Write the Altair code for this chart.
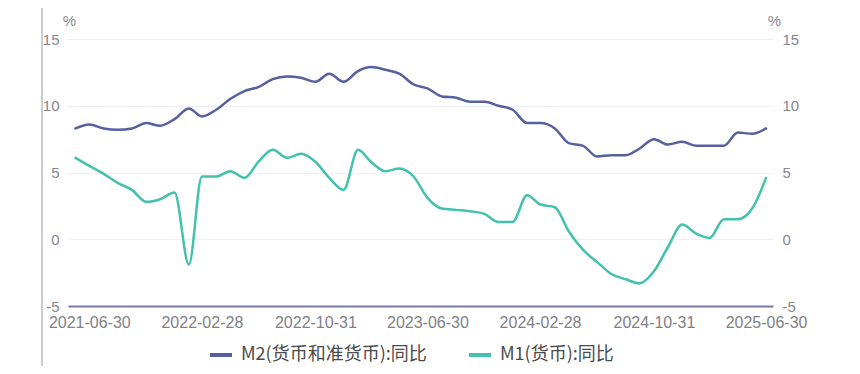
import altair as alt
import pandas as pd

# Month-end observation dates (categories)
dates = pd.date_range("2021-05-31", "2025-06-30", freq="ME").strftime("%Y-%m-%d").tolist()

# M2 year-on-year growth, %
m2 = [8.3, 8.6, 8.3, 8.2, 8.3, 8.7, 8.5, 9.0,
      9.8, 9.2, 9.7, 10.5, 11.1, 11.4, 12.0, 12.2, 12.1, 11.8, 12.4, 11.8,
      12.6, 12.9, 12.7, 12.4, 11.6, 11.3, 10.7, 10.6, 10.3, 10.3, 10.0, 9.7,
      8.7, 8.7, 8.3, 7.2, 7.0, 6.2, 6.3, 6.3, 6.8, 7.5, 7.1, 7.3,
      7.0, 7.0, 7.0, 8.0, 7.9, 8.3]

# M1 year-on-year growth, %
m1 = [6.1, 5.5, 4.9, 4.2, 3.7, 2.8, 3.0, 3.5,
      -1.9, 4.7, 4.7, 5.1, 4.6, 5.8, 6.7, 6.1, 6.4, 5.8, 4.6, 3.7,
      6.7, 5.8, 5.1, 5.3, 4.7, 3.1, 2.3, 2.2, 2.1, 1.9, 1.3, 1.3,
      3.3, 2.6, 2.4, 0.6, -0.8, -1.7, -2.6, -3.0, -3.3, -2.4, -0.6, 1.1,
      0.4, 0.1, 1.5, 1.5, 2.3, 4.6]

series_names = ["M2(货币和准货币):同比", "M1(货币):同比"]
series_colors = ["#56609f", "#42c1ae"]
x_tick_labels = ["2021-06-30", "2022-02-28", "2022-10-31", "2023-06-30",
                 "2024-02-28", "2024-10-31", "2025-06-30"]
y_ticks = [-5, 0, 5, 10, 15]

df = pd.DataFrame({
    "date": dates * 2,
    "value": m2 + m1,
    "series": [series_names[0]] * len(m2) + [series_names[1]] * len(m1),
})


def dt(s):
    y, m, d = (int(p) for p in s.split("-"))
    return alt.DateTime(year=y, month=m, date=d, utc=True)


x_enc = alt.X(
    "date:T",
    scale=alt.Scale(type="utc", domain=[dt("2021-05-15"), dt("2025-07-15")]),
    axis=alt.Axis(
        values=[dt(s) for s in x_tick_labels],
        labelExpr="utcFormat(datum.value, '%Y-%m-%d')",
        title=None, grid=False, ticks=False, labelOverlap=False, labelFlush=False,
        domainColor="#777aa3", domainWidth=2, labelPadding=8,
        labelFontSize=16, labelColor="#7f7f86", labelFont="Liberation Sans",
    ),
)

color_enc = alt.Color(
    "series:N",
    scale=alt.Scale(domain=series_names, range=series_colors),
    legend=alt.Legend(
        orient="none", legendX=140, legendY=303, direction="horizontal", title=None,
        symbolType="stroke", symbolStrokeWidth=4, symbolSize=484, symbolOpacity=1,
        labelFontSize=18, labelFont="Noto Sans CJK SC", labelColor="#4a4a4a",
        labelOffset=7, columnPadding=34, labelLimit=400,
    ),
)

common_axis = dict(
    values=y_ticks, title="%", titleAngle=0, titleAlign="center", titleBaseline="middle",
    titleX=1, titleY=-19, titleFontSize=15, titleFontWeight="normal", titleColor="#8a8a90",
    titleFont="Liberation Sans", domain=False, ticks=False, labelPadding=9,
    labelFontSize=15, labelColor="#86868c", labelFont="Liberation Sans",
    labelExpr="datum.value < 0 ? '-' + abs(datum.value) : '' + datum.value",
)

base = alt.Chart(df)

m2_line = base.transform_filter(alt.datum.series == series_names[0]).mark_line(
    strokeWidth=2.5, interpolate="monotone", strokeCap="round"
).encode(
    x=x_enc,
    y=alt.Y("value:Q", scale=alt.Scale(domain=[-5, 15], nice=False, zero=False),
            axis=alt.Axis(orient="left", grid=True, gridColor="#eeeff6", **common_axis)),
    color=color_enc,
)

m1_line = base.transform_filter(alt.datum.series == series_names[1]).mark_line(
    strokeWidth=2.5, interpolate="monotone", strokeCap="round"
).encode(
    x=x_enc,
    y=alt.Y("value:Q", scale=alt.Scale(domain=[-5, 15], nice=False, zero=False),
            axis=alt.Axis(orient="right", grid=False, **common_axis)),
    color=color_enc,
)

left_border = alt.Chart(pd.DataFrame({"k": [0]})).mark_rule(
    color="#9a9a9a", strokeWidth=1
).encode(x=alt.value(-26), y=alt.value(-33), y2=alt.value(327))

chart = alt.layer(m2_line, m1_line, left_border).resolve_scale(
    y="independent"
).properties(
    width=705, height=267,
    autosize=alt.AutoSizeParams(type="none"),
    padding={"left": 60, "top": 31, "right": 79, "bottom": 60},
    background="white",
).configure_view(strokeWidth=0)

chart.save("out.html", embed_options={"renderer": "svg", "actions": False})
